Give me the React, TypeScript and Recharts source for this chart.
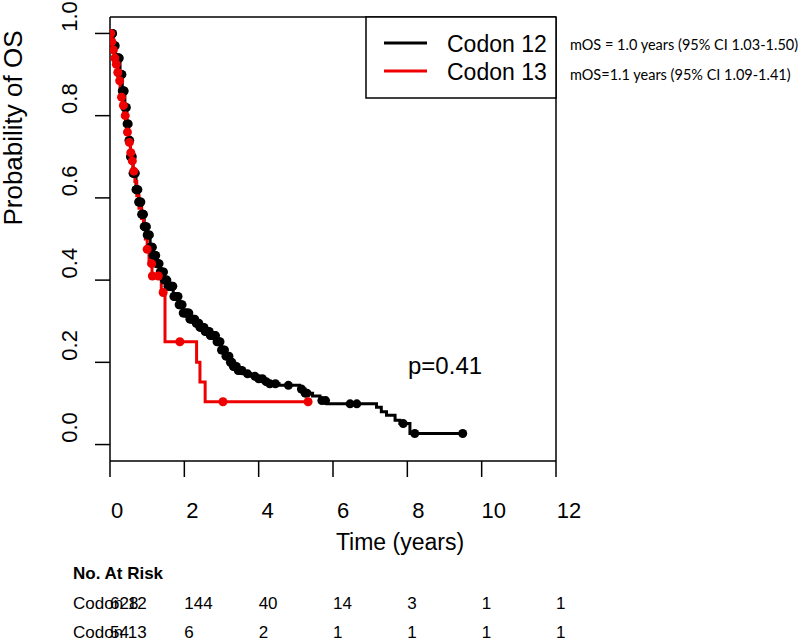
import { ComposedChart, Line, Scatter, XAxis, YAxis, ReferenceLine } from 'recharts'

// Kaplan-Meier steps (time in years, survival)
const codon12Times = [0, 0.08, 0.15, 0.27, 0.33, 0.4, 0.45, 0.5, 0.55, 0.62, 0.7, 0.77, 0.85, 0.92, 1.0, 1.08, 1.16, 1.25, 1.35, 1.45, 1.55, 1.7, 1.85, 1.97, 2.15, 2.3, 2.42, 2.55, 2.69, 2.85, 3.0, 3.1, 3.22, 3.32, 3.45, 3.58, 3.8, 3.95, 4.15, 4.3, 4.55, 5.1, 5.25, 5.45, 5.65, 5.84, 7.17, 7.3, 7.44, 7.67, 7.8, 8.07, 9.49]
const codon12Surv = [1.0, 0.97, 0.94, 0.9, 0.86, 0.82, 0.78, 0.74, 0.7, 0.66, 0.62, 0.59, 0.56, 0.53, 0.51, 0.48, 0.46, 0.44, 0.42, 0.4, 0.385, 0.36, 0.34, 0.32, 0.305, 0.295, 0.285, 0.275, 0.265, 0.25, 0.23, 0.215, 0.2, 0.19, 0.18, 0.172, 0.166, 0.16, 0.153, 0.148, 0.144, 0.135, 0.125, 0.118, 0.107, 0.099, 0.091, 0.08, 0.071, 0.059, 0.051, 0.027, 0.027]
const codon12Censor = [
  0.03, 0.04, 0.06, 0.07, 0.09, 0.1, 0.12, 0.14, 0.16, 0.17, 0.19, 0.2, 0.22, 0.23, 0.25, 0.27, 0.29, 0.3,
  0.32, 0.33, 0.35, 0.37, 0.38, 0.4, 0.42, 0.44, 0.46, 0.47, 0.49, 0.51, 0.53, 0.55, 0.57, 0.58, 0.6, 0.62,
  0.64, 0.66, 0.68, 0.7, 0.71, 0.73, 0.75, 0.77, 0.79, 0.81, 0.83, 0.85, 0.87, 0.89, 0.9, 0.92, 0.94, 0.96,
  0.98, 1.0, 1.02, 1.04, 1.06, 1.08, 1.1, 1.12, 1.14, 1.16, 1.19, 1.21, 1.23, 1.25, 1.28, 1.3, 1.32, 1.35,
  1.37, 1.39, 1.41, 1.44, 1.46, 1.49, 1.51, 1.53, 1.56, 1.58, 1.61, 1.64, 1.66, 1.69, 1.72, 1.75, 1.77, 1.8,
  1.83, 1.86, 1.88, 1.91, 1.94, 1.97, 2.0, 2.03, 2.06, 2.09, 2.12, 2.15, 2.19, 2.22, 2.25, 2.28, 2.32, 2.35,
  2.39, 2.42, 2.46, 2.49, 2.53, 2.56, 2.6, 2.63, 2.67, 2.7, 2.74, 2.77, 2.81, 2.84, 2.88, 2.92, 2.96, 3.0,
  3.04, 3.08, 3.12, 3.16, 3.2, 3.24, 3.28, 3.32, 3.36, 3.4, 3.45, 3.5, 3.55, 3.7, 3.9, 4.0, 4.1, 4.2, 4.3,
  4.45, 4.8, 5.15, 5.25, 5.3, 5.7, 5.8, 6.46, 6.64, 7.89, 8.2, 9.49,
]

const codon13Times = [0, 0.05, 0.08, 0.12, 0.15, 0.2, 0.23, 0.27, 0.3, 0.33, 0.37, 0.42, 0.45, 0.5, 0.55, 0.58, 0.62, 0.67, 0.72, 0.78, 0.85, 0.9, 0.95, 1.0, 1.05, 1.13, 1.38, 1.48, 2.33, 2.42, 2.56, 5.33]
const codon13Surv = [1.0, 0.98, 0.96, 0.94, 0.925, 0.905, 0.885, 0.865, 0.845, 0.825, 0.8, 0.78, 0.76, 0.735, 0.71, 0.69, 0.665, 0.64, 0.605, 0.575, 0.55, 0.525, 0.5, 0.475, 0.44, 0.41, 0.37, 0.25, 0.2, 0.152, 0.104, 0.104]
const codon13Censor = [0.02, 0.05, 0.09, 0.13, 0.17, 0.21, 0.26, 0.31, 0.36, 0.41, 0.47, 0.52, 0.56, 0.6, 0.64, 1.0, 1.12, 1.14, 1.3, 1.43, 1.88, 3.04, 5.33]

const xTicks = [0, 2, 4, 6, 8, 10, 12]
const yTicks = [0, 0.2, 0.4, 0.6, 0.8, 1.0]
const riskCodon12 = ['628', '144', '40', '14', '3', '1', '1']
const riskCodon13 = ['54', '6', '2', '1', '1', '1', '1']

const FONT = "'Liberation Sans', Arial, sans-serif"

const steps = (times: number[], surv: number[]) => times.map((t, i) => ({ t, s: surv[i] }))

// survival value at a censor time, taken from the step table
const censorPoints = (censor: number[], times: number[], surv: number[]) =>
  censor.map((c) => {
    let s = surv[0]
    times.forEach((t, i) => {
      if (t <= c) s = surv[i]
    })
    return { t: c, s }
  })

const black = steps(codon12Times, codon12Surv)
const red = steps(codon13Times, codon13Surv)
const blackCensor = censorPoints(codon12Censor, codon12Times, codon12Surv)
const redCensor = censorPoints(codon13Censor, codon13Times, codon13Surv)

function XTick(props: any) {
  const { x, index, payload } = props
  return (
    <g fontFamily={FONT}>
      <text x={x + 7 + payload.value * 0.5} y={510} fontSize={22} textAnchor="middle" dominantBaseline="central">
        {payload.value}
      </text>
      <text x={x} y={603} fontSize={17} dominantBaseline="central">
        {riskCodon12[index]}
      </text>
      <text x={x} y={632} fontSize={17} dominantBaseline="central">
        {riskCodon13[index]}
      </text>
    </g>
  )
}

function YTick(props: any) {
  const { y, payload } = props
  const cy = y - 17
  return (
    <text
      x={70}
      y={cy}
      fontSize={22}
      fontFamily={FONT}
      textAnchor="middle"
      dominantBaseline="central"
      transform={`rotate(-90, 70, ${cy})`}
    >
      {payload.value.toFixed(1)}
    </text>
  )
}

const dot = (color: string) => (p: any) => <circle cx={p.cx} cy={p.cy} r={4.5} fill={color} />

export default function App() {
  return (
    <div style={{ position: 'absolute', left: 0, top: 0, width: 800, height: 639, background: '#fff' }}>
      <ComposedChart width={800} height={639} margin={{ top: 17, right: 244, left: 0, bottom: 138 }}>
        <XAxis
          dataKey="t"
          type="number"
          domain={[0, 12]}
          ticks={xTicks}
          allowDataOverflow
          height={40}
          tickSize={16}
          stroke="#000"
          strokeWidth={1.5}
          tick={<XTick />}
        />
        <YAxis
          dataKey="s"
          type="number"
          domain={[-0.04, 1.04]}
          ticks={yTicks}
          allowDataOverflow
          width={110}
          tickSize={15}
          stroke="#000"
          strokeWidth={1.5}
          tick={<YTick />}
        />
        <ReferenceLine y={1.04} stroke="#000" strokeWidth={1.5} />
        <ReferenceLine x={12} stroke="#000" strokeWidth={1.5} />
        <Line data={black} dataKey="s" type="stepAfter" stroke="#000" strokeWidth={3} dot={false} isAnimationActive={false} />
        <Scatter data={blackCensor} dataKey="s" fill="#000" shape={dot('#000')} isAnimationActive={false} />
        <Line data={red} dataKey="s" type="stepAfter" stroke="#ee0000" strokeWidth={3} dot={false} isAnimationActive={false} />
        <Scatter data={redCensor} dataKey="s" fill="#ee0000" shape={dot('#ee0000')} isAnimationActive={false} />
      </ComposedChart>
      <svg width={800} height={639} style={{ position: 'absolute', left: 0, top: 0, pointerEvents: 'none' }} fontFamily={FONT}>
        <text x={13} y={128} fontSize={26} textAnchor="middle" dominantBaseline="central" transform="rotate(-90, 13, 128)">
          Probability of OS
        </text>
        <text x={400} y={542} fontSize={23} textAnchor="middle" dominantBaseline="central">
          Time (years)
        </text>
        <text x={73} y={573} fontSize={17} fontWeight="bold" dominantBaseline="central">
          No. At Risk
        </text>
        <text x={73} y={603} fontSize={17} dominantBaseline="central">Codon 12</text>
        <text x={73} y={632} fontSize={17} dominantBaseline="central">Codon 13</text>

        <rect x={366} y={17} width={190} height={81} fill="#fff" stroke="#000" strokeWidth={1.5} />
        <line x1={384} x2={427} y1={43} y2={43} stroke="#000" strokeWidth={3} />
        <line x1={384} x2={427} y1={71} y2={71} stroke="#ee0000" strokeWidth={3} />
        <text x={447} y={44} fontSize={23} dominantBaseline="central">Codon 12</text>
        <text x={447} y={72} fontSize={23} dominantBaseline="central">Codon 13</text>

        <text x={570} y={44} fontSize={14.5} fontFamily="Lato, sans-serif" dominantBaseline="central">
          mOS = 1.0 years (95% CI 1.03-1.50)
        </text>
        <text x={570} y={74} fontSize={14.5} fontFamily="Lato, sans-serif" dominantBaseline="central">
          mOS=1.1 years (95% CI 1.09-1.41)
        </text>
        <text x={408} y={365} fontSize={24} dominantBaseline="central">p=0.41</text>
      </svg>
    </div>
  )
}
